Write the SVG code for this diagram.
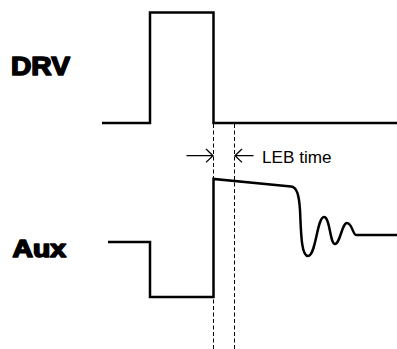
<svg xmlns="http://www.w3.org/2000/svg" width="397" height="349" viewBox="0 0 397 349">
<style>
.wave{fill:none;stroke:#000;stroke-width:2.5;stroke-linejoin:miter}
.dash{fill:none;stroke:#000;stroke-width:1;stroke-dasharray:4,2.5}
.arr{fill:none;stroke:#000;stroke-width:1.3}
.lbl{font-family:"Liberation Sans",Arial,sans-serif;font-weight:bold;fill:#000;stroke:#000;stroke-width:1.6;stroke-linejoin:round}
.txt{font-family:"Liberation Sans",Arial,sans-serif;fill:#000}
</style>
<rect width="397" height="349" fill="#fff"/>
<g id="drv">
<text class="lbl" x="11" y="74.5" font-size="26" textLength="59" lengthAdjust="spacingAndGlyphs">DRV</text>
<path class="wave" d="M102,123 H150 V12.5 H213.5 V123 H397"/>
</g>
<g id="aux">
<text class="lbl" x="12.5" y="256.5" font-size="23" textLength="53.5" lengthAdjust="spacingAndGlyphs">Aux</text>
<path class="wave" d="M108,242 H150 V297 H213.5 V179 L291,186.5 C297,187 299,195 300,210 C301,230 301,256 308,256 C316,256 317,217 324,217 C330,217 330,244 335,244 C340,244 342,223 347,223 C352,223 353,235 356,235 H397"/>
</g>
<g id="leb">
<text class="txt" x="262" y="162.5" font-size="17" textLength="69.5" lengthAdjust="spacingAndGlyphs">LEB time</text>
</g>
<g id="connectors">
<path class="dash" d="M213.5,124 V349"/>
<path class="dash" d="M234.5,124 V349"/>
<path class="arr" d="M186.5,155.7 H213 M206,149 L213,155.7 L206,162.4"/>
<path class="arr" d="M253.5,155.7 H235 M242,149 L235,155.7 L242,162.4"/>
</g>
</svg>
